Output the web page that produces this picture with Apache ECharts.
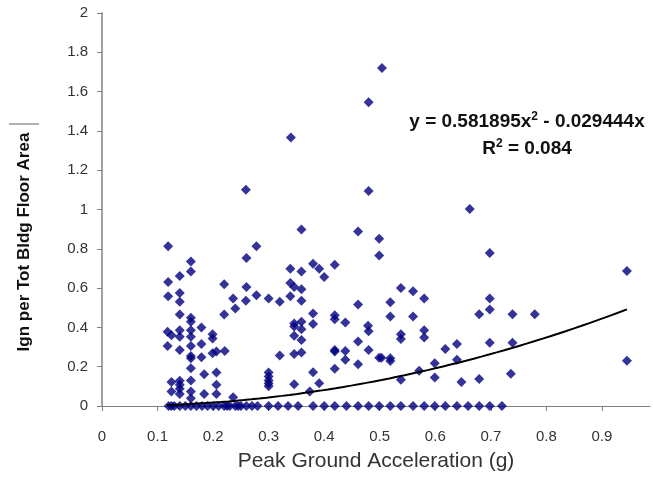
<!DOCTYPE html>
<html>
<head>
<meta charset="utf-8">
<script src="https://cdn.jsdelivr.net/npm/echarts@6/dist/echarts.min.js"></script>
<style>
  html, body { margin: 0; padding: 0; background: #fff; }
  #chart { width: 653px; height: 477px; }
</style>
</head>
<body>
<div id="chart"></div>
<script>
// observed points above zero: [PGA (g), ignitions per total bldg floor area]
var pointsAboveZero = [
    [0.504, 1.72], [0.48, 1.546], [0.34, 1.367], [0.259, 1.10], [0.48, 1.094],
    [0.662, 1.003], [0.359, 0.898], [0.461, 0.888], [0.499, 0.851],
    [0.119, 0.813], [0.278, 0.813], [0.26, 0.753], [0.16, 0.736], [0.16, 0.685],
    [0.14, 0.662], [0.119, 0.631], [0.22, 0.619], [0.26, 0.606], [0.119, 0.558],
    [0.14, 0.575], [0.14, 0.53], [0.236, 0.547], [0.278, 0.564], [0.259, 0.535],
    [0.24, 0.496], [0.22, 0.466], [0.14, 0.466], [0.16, 0.449], [0.16, 0.429],
    [0.179, 0.40], [0.118, 0.378], [0.125, 0.36], [0.14, 0.386], [0.14, 0.353],
    [0.16, 0.386], [0.16, 0.353], [0.199, 0.365], [0.199, 0.344], [0.118, 0.305],
    [0.14, 0.285], [0.16, 0.305], [0.179, 0.315], [0.16, 0.255], [0.16, 0.243],
    [0.179, 0.248], [0.199, 0.268], [0.206, 0.277], [0.221, 0.28], [0.16, 0.192],
    [0.184, 0.162], [0.206, 0.17], [0.125, 0.122], [0.125, 0.074], [0.14, 0.128],
    [0.14, 0.108], [0.14, 0.088], [0.14, 0.061], [0.16, 0.13], [0.16, 0.074],
    [0.16, 0.04], [0.184, 0.061], [0.206, 0.108], [0.206, 0.061], [0.236, 0.044],
    [0.30, 0.547], [0.32, 0.53], [0.339, 0.699], [0.359, 0.685], [0.38, 0.724],
    [0.391, 0.699], [0.40, 0.657], [0.419, 0.719], [0.339, 0.626], [0.346, 0.606],
    [0.359, 0.594], [0.339, 0.558], [0.359, 0.535], [0.38, 0.471], [0.38, 0.417],
    [0.346, 0.42], [0.346, 0.404], [0.359, 0.429], [0.359, 0.39], [0.346, 0.358],
    [0.359, 0.336], [0.32, 0.257], [0.346, 0.265], [0.359, 0.272], [0.30, 0.17],
    [0.30, 0.15], [0.30, 0.13], [0.30, 0.115], [0.30, 0.10], [0.38, 0.172],
    [0.346, 0.111], [0.391, 0.116], [0.374, 0.074],
    [0.499, 0.766], [0.698, 0.778], [0.945, 0.687], [0.419, 0.462], [0.419, 0.442],
    [0.438, 0.425], [0.461, 0.516], [0.479, 0.409], [0.48, 0.381], [0.519, 0.528],
    [0.519, 0.456], [0.538, 0.601], [0.56, 0.584], [0.58, 0.547], [0.56, 0.456],
    [0.538, 0.365], [0.538, 0.341], [0.58, 0.386], [0.58, 0.348], [0.419, 0.285],
    [0.419, 0.277], [0.438, 0.28], [0.438, 0.235], [0.419, 0.189], [0.461, 0.328],
    [0.461, 0.213], [0.48, 0.285], [0.499, 0.246], [0.503, 0.246], [0.519, 0.243],
    [0.519, 0.229], [0.538, 0.133], [0.571, 0.179], [0.599, 0.218], [0.599, 0.145],
    [0.618, 0.29], [0.639, 0.316], [0.639, 0.235], [0.647, 0.122], [0.679, 0.467],
    [0.679, 0.138], [0.698, 0.547], [0.698, 0.491], [0.698, 0.322], [0.736, 0.164],
    [0.739, 0.467], [0.739, 0.322], [0.779, 0.467], [0.945, 0.23]
];

// PGA values of the observations with zero ignitions
var zeroPga = [
    0.12, 0.125, 0.13, 0.14, 0.15, 0.16, 0.17, 0.18, 0.19, 0.20, 0.21, 0.22,
    0.225, 0.23, 0.24, 0.245, 0.25, 0.26, 0.27, 0.28, 0.30, 0.317, 0.335, 0.353,
    0.38, 0.40, 0.419, 0.44, 0.461, 0.48, 0.499, 0.519, 0.538, 0.56, 0.58,
    0.599, 0.618, 0.639, 0.659, 0.679, 0.698, 0.72
];

// polynomial trend line shown on the chart: y = a x^2 + b x
var trendCoef = [0.581895, -0.029444];
var trendRange = [0.117, 0.945];

var chart = echarts.init(document.getElementById('chart'));

var scatterData = pointsAboveZero.concat(zeroPga.map(function (x) { return [x, 0]; }));

var trendData = [];
for (var i = 0; i <= 60; i++) {
    var x = trendRange[0] + (trendRange[1] - trendRange[0]) * i / 60;
    trendData.push([x, trendCoef[0] * x * x + trendCoef[1] * x]);
}

var font = 'Liberation Sans, Arial, sans-serif';

var option = {
    animation: false,
    backgroundColor: '#fff',
    grid: { left: 102, top: 13, width: 548, height: 395 },
    xAxis: {
        type: 'value',
        min: 0,
        max: 0.9865,
        interval: 0.1,
        name: 'Peak Ground Acceleration (g)',
        nameLocation: 'middle',
        nameGap: 45,
        nameTextStyle: { fontFamily: font, fontSize: 21, color: '#333' },
        axisLine: { show: true, lineStyle: { color: '#808080', width: 1 } },
        axisTick: { show: true, length: 5, lineStyle: { color: '#808080' } },
        axisLabel: {
            showMaxLabel: false, margin: 23,
            fontFamily: font, fontSize: 15, color: '#333'
        },
        splitLine: { show: false }
    },
    yAxis: {
        type: 'value',
        min: 0,
        max: 2,
        interval: 0.2,
        axisLine: { show: true, lineStyle: { color: '#808080', width: 1.5 } },
        axisTick: { show: true, length: 5, lineStyle: { color: '#808080' } },
        axisLabel: { margin: 14, fontFamily: font, fontSize: 15, color: '#333' },
        splitLine: { show: false }
    },
    graphic: [
        {
            type: 'text',
            x: 24, y: 242,
            rotation: Math.PI / 2,
            style: {
                text: 'Ign per Tot Bldg Floor Area',
                font: 'bold 17px ' + font,
                fill: '#111',
                align: 'center',
                verticalAlign: 'middle'
            }
        },
        {
            type: 'line',
            shape: { x1: 9, y1: 124, x2: 39, y2: 124 },
            style: { stroke: '#b0b0b0', lineWidth: 2 }
        },
        {
            type: 'text',
            x: 527, y: 122,
            style: {
                text: '{b|y = 0.581895x}{s|2}{b| - 0.029444x}',
                align: 'center',
                verticalAlign: 'middle',
                rich: {
                    b: { font: 'bold 19px ' + font, fill: '#111' },
                    s: { font: 'bold 12px ' + font, fill: '#111', verticalAlign: 'top', padding: [0, 0, 10, 0] }
                }
            }
        },
        {
            type: 'text',
            x: 527, y: 149,
            style: {
                text: '{b|R}{s|2}{b| = 0.084}',
                align: 'center',
                verticalAlign: 'middle',
                rich: {
                    b: { font: 'bold 19px ' + font, fill: '#111' },
                    s: { font: 'bold 12px ' + font, fill: '#111', verticalAlign: 'top', padding: [0, 0, 10, 0] }
                }
            }
        }
    ],
    series: [
        {
            type: 'scatter',
            symbol: 'diamond',
            symbolSize: 10,
            itemStyle: { color: '#00007f' },
            data: scatterData,
            z: 3
        },
        {
            type: 'line',
            showSymbol: false,
            smooth: false,
            lineStyle: { color: '#000', width: 2 },
            data: trendData,
            z: 4
        }
    ]
};
chart.setOption(option);
</script>
</body>
</html>
